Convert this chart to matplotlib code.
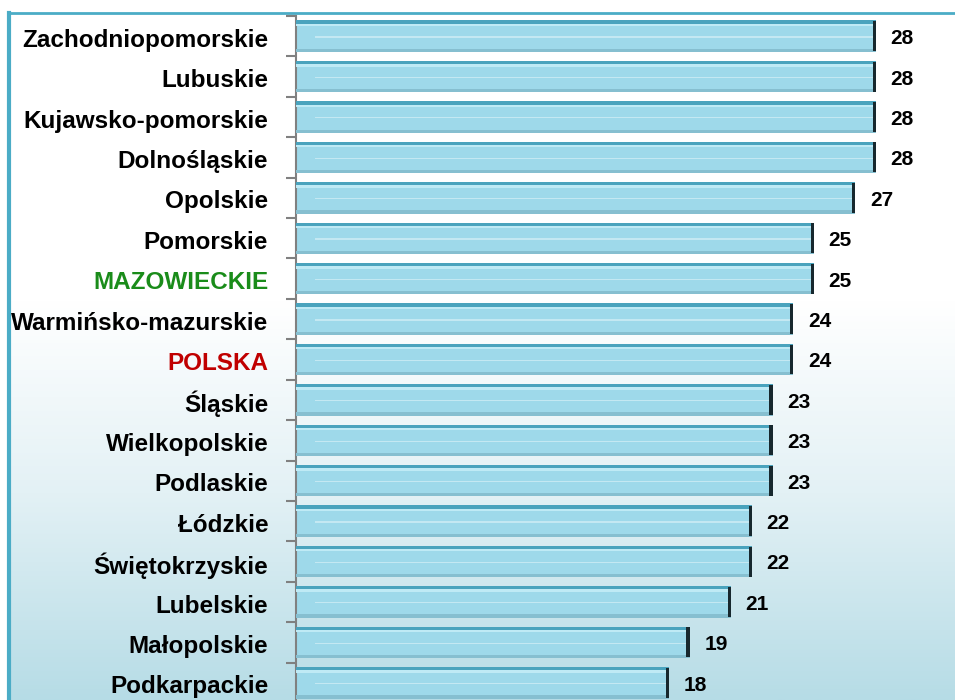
import numpy as np
import matplotlib.pyplot as plt
from matplotlib.colors import LinearSegmentedColormap

regiony = ['Zachodniopomorskie', 'Lubuskie', 'Kujawsko-pomorskie', 'Dolnośląskie',
           'Opolskie', 'Pomorskie', 'MAZOWIECKIE', 'Warmińsko-mazurskie', 'POLSKA',
           'Śląskie', 'Wielkopolskie', 'Podlaskie', 'Łódzkie', 'Świętokrzyskie',
           'Lubelskie', 'Małopolskie', 'Podkarpackie']
wartosci = [28, 28, 28, 28, 27, 25, 25, 24, 24, 23, 23, 23, 22, 22, 21, 19, 18]
kolory_etykiet = {'MAZOWIECKIE': '#1a8c1a', 'POLSKA': '#c00000'}

plt.rcParams['font.family'] = ['Liberation Sans', 'DejaVu Sans']

W, H = 955, 700
fig = plt.figure(figsize=(W / 100, H / 100), dpi=100)

# tlo z gradientem i ramka
bg = fig.add_axes([0, 0, 1, 1], zorder=0)
bg.set_xlim(0, W)
bg.set_ylim(H, 0)
bg.axis('off')
cmap = LinearSegmentedColormap.from_list('tlo', [(0, '#ffffff'), (0.42, '#ffffff'),
                                                  (0.7, '#e3f1f5'), (1, '#b6dce6')])
grad = np.linspace(0, 1, 256).reshape(-1, 1)
bg.imshow(grad, cmap=cmap, extent=[9, W, H, 13], aspect='auto')
bg.plot([9, W], [13, 13], color='#4bacc6', lw=2)
bg.plot([9, 9], [13, H], color='#4bacc6', lw=3)

# wykres
ax = fig.add_axes([296 / W, -3 / H, (W - 296) / W, 687 / H], zorder=1)
ax.patch.set_alpha(0)
n = len(regiony)
y = np.arange(n)
ax.set_ylim(n - 0.5, -0.5)
ax.set_xlim(0, (W - 296) / 20.72)

h = 0.78
w = np.array(wartosci)
ax.barh(y, w, height=h, color='#9ed9ea', edgecolor='none', zorder=2)
ax.barh(y - h / 2 + 0.04, w, height=0.08, color='#4aa3bd', edgecolor='none', zorder=3)
ax.barh(y - h / 2 + 0.11, w, height=0.06, color='#bfeaf5', edgecolor='none', zorder=3)
ax.barh(y + h / 2 - 0.04, w, height=0.08, color='#86bfd0', edgecolor='none', zorder=3)
ax.barh(y + 0.02, w - 0.9, left=0.9, height=0.03, color='#c4e8f2', edgecolor='none', zorder=3)
ax.barh(y, 0.16, left=w - 0.16, height=h - 0.04, color='#17282e', edgecolor='none', zorder=4)

for yi, v in zip(y, wartosci):
    ax.text(v + 0.7, yi + 0.06, str(v), va='center', ha='left', fontsize=15,
            fontweight='bold', color='black')

ax.set_yticks(y + 0.04)
ax.set_yticklabels(regiony, fontsize=17.5, fontweight='bold')
for lab in ax.get_yticklabels():
    lab.set_color(kolory_etykiet.get(lab.get_text(), 'black'))
ax.tick_params(axis='y', length=0, pad=20)
ax.set_yticks(np.arange(n + 1) - 0.5, minor=True)
ax.tick_params(axis='y', which='minor', length=7, color='#808080', width=1.5)
ax.set_xticks([])

for s in ['top', 'right', 'bottom']:
    ax.spines[s].set_visible(False)
ax.spines['left'].set_color('#808080')
ax.spines['left'].set_linewidth(1.5)

fig.savefig('out.png', dpi=100)
